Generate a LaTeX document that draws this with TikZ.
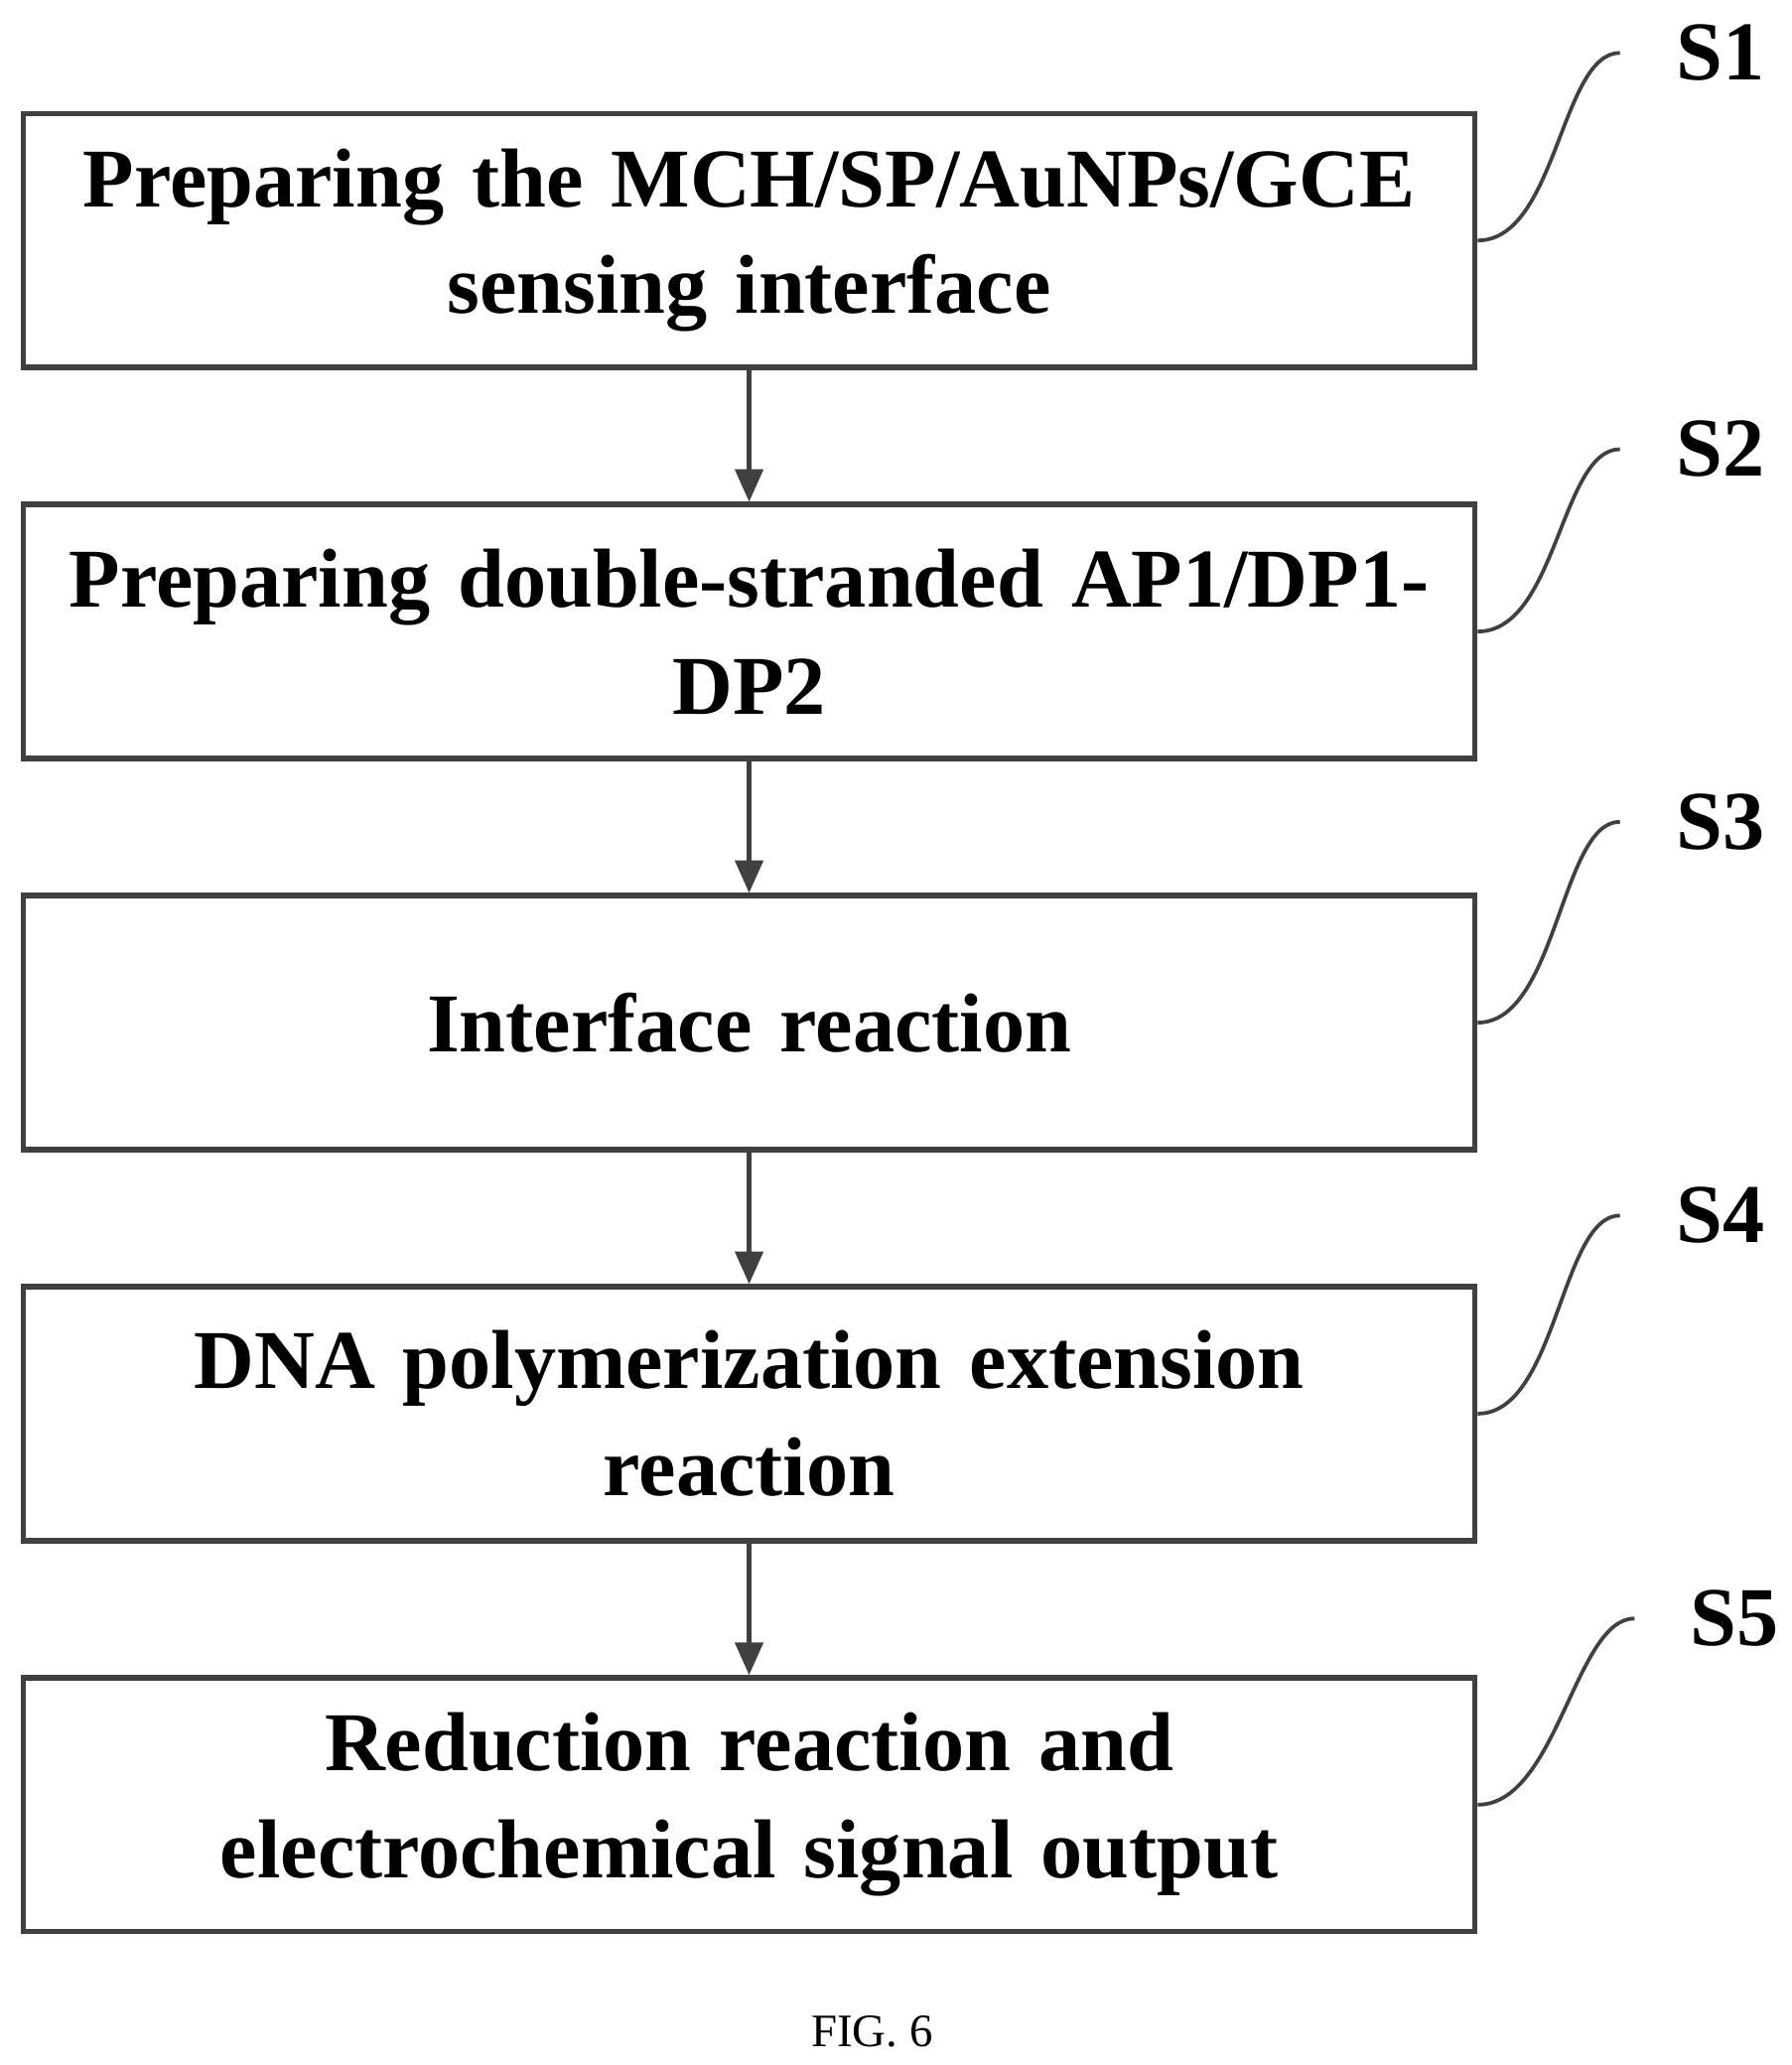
\documentclass[tikz,border=0pt]{standalone}
\usepackage{fontspec}
\setmainfont{Liberation Serif}
\usetikzlibrary{arrows.meta,positioning}

\begin{document}
\begin{tikzpicture}[x=0.01cm,y=-0.01cm]
		\tikzstyle{stage} = [rectangle, draw=black!75, line width=1.2pt, minimum width=10.98cm,
		minimum height=1.92cm, text width=10.8cm, align=center, inner sep=0pt,
		font=\fontsize{18}{23}\selectfont\bfseries]
		\tikzstyle{arrow} = [draw=black!75, line width=0.9pt, -{Triangle[length=7pt,width=6pt]}]
		\tikzstyle{tag} = [font=\fontsize{18}{22}\selectfont\bfseries]
		\tikzstyle{lead} = [draw=black!75, line width=0.8pt]
		\useasboundingbox (0,0) rectangle (1356,1563);
		\node (prep) [stage] at (567,182) {Preparing the MCH/SP/AuNPs/GCE\\sensing interface};
		\node (strand) [stage] at (567,478) {Preparing double-stranded AP1/DP1-\\DP2};
		\node (react) [stage] at (567,774) {Interface reaction};
		\node (poly) [stage] at (567,1070) {DNA polymerization extension\\reaction};
		\node (output) [stage] at (567,1366) {Reduction reaction and\\electrochemical signal output};
		\node (s1) [tag] at (1302,40) {S1};
		\node (s2) [tag] at (1302,340) {S2};
		\node (s3) [tag] at (1302,622) {S3};
		\node (s4) [tag] at (1302,920) {S4};
		\node (s5) [tag] at (1313,1225) {S5};
		\node (fig) [font=\fontsize{10}{12}\selectfont] at (660,1538) {FIG. 6};
		\draw [arrow] (prep) -- (strand);
		\draw [arrow] (strand) -- (react);
		\draw [arrow] (react) -- (poly);
		\draw [arrow] (poly) -- (output);
		\foreach \b/\s in {prep/s1, strand/s2, react/s3, poly/s4, output/s5}
		  \draw [lead] (\b.east) .. controls +(60,0) and +(-45,0) .. ([xshift=-0.3cm]\s.west);
		\end{tikzpicture}
\end{document}
